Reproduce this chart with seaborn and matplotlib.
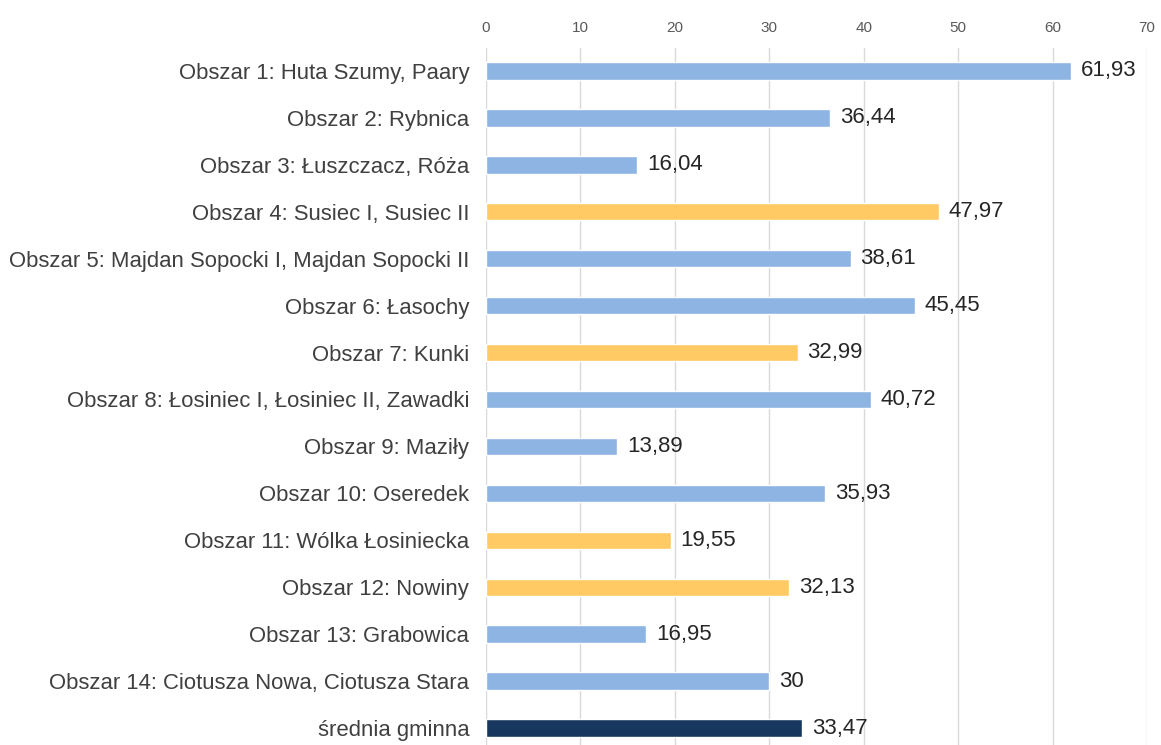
import matplotlib
matplotlib.use("Agg")
import matplotlib.pyplot as plt
import seaborn as sns
import pandas as pd

categories = [
    "Obszar 1: Huta Szumy, Paary",
    "Obszar 2: Rybnica",
    "Obszar 3: Łuszczacz, Róża",
    "Obszar 4: Susiec I, Susiec II",
    "Obszar 5: Majdan Sopocki I, Majdan Sopocki II",
    "Obszar 6: Łasochy",
    "Obszar 7: Kunki",
    "Obszar 8: Łosiniec I, Łosiniec II, Zawadki",
    "Obszar 9: Maziły",
    "Obszar 10: Oseredek",
    "Obszar 11: Wólka Łosiniecka",
    "Obszar 12: Nowiny",
    "Obszar 13: Grabowica",
    "Obszar 14: Ciotusza Nowa, Ciotusza Stara",
    "średnia gminna",
]
values = [61.93, 36.44, 16.04, 47.97, 38.61, 45.45, 32.99, 40.72, 13.89,
          35.93, 19.55, 32.13, 16.95, 30, 33.47]
groups = ["b", "b", "b", "y", "b", "b", "y", "b", "b", "b", "y", "y", "b", "b", "n"]
value_labels = ["61,93", "36,44", "16,04", "47,97", "38,61", "45,45", "32,99",
                "40,72", "13,89", "35,93", "19,55", "32,13", "16,95", "30", "33,47"]
ticks = [0, 10, 20, 30, 40, 50, 60, 70]

group_colors = {"b": "#8DB4E2", "y": "#FFCA64", "n": "#17375E"}

sns.set_theme(style="white")
plt.rcParams["font.family"] = ["Liberation Sans", "DejaVu Sans"]

df = pd.DataFrame({"cat": categories, "val": values, "grp": groups})

fig = plt.figure(figsize=(11.61, 7.45), dpi=100)
ax = fig.add_axes([486 / 1161, -6.5 / 745, (1147 - 486) / 1161, (751.5 - 47.5) / 745])

sns.barplot(data=df, x="val", y="cat", hue="grp", palette=group_colors,
            dodge=False, legend=False, width=0.37, ax=ax, saturation=1)

ax.set_xlim(0, 70)
ax.set_xticks(ticks)
ax.xaxis.tick_top()
ax.tick_params(axis="x", labelsize=11, colors="#595959", length=0, pad=9)
ax.tick_params(axis="y", labelsize=15.9, colors="#404040", length=0, pad=12)
ax.set_xlabel("")
ax.set_ylabel("")
ax.grid(axis="x", color="#D9D9D9", linewidth=1)
ax.set_axisbelow(True)
for s in ax.spines.values():
    s.set_visible(False)

for i, (v, lab) in enumerate(zip(values, value_labels)):
    ax.annotate(lab, (v, i), xytext=(7, 0), textcoords="offset points",
                va="center", ha="left", fontsize=16, color="#262626")

fig.savefig("out.png", dpi=100)
